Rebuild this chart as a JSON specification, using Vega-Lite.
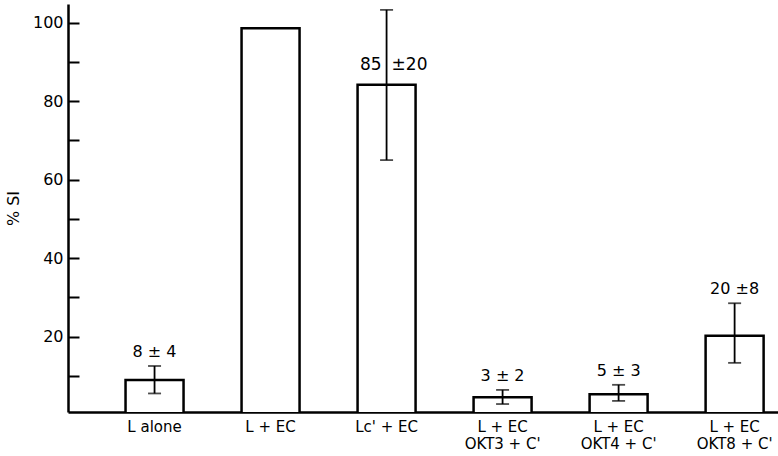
{
  "$schema": "https://vega.github.io/schema/vega-lite/v6.json",
  "autosize": "none",
  "width": 710,
  "height": 408,
  "padding": {"left": 68, "top": 4, "right": 0, "bottom": 44},
  "background": "white",
  "config": {
    "view": {"stroke": null},
    "font": "DejaVu Sans"
  },
  "data": {
    "values": [
      {"group": "L alone", "value": 8.9, "lo": 5.5, "hi": 12.5, "label": "8 ± 4", "mode": "above"},
      {"group": "L + EC", "value": 98.6, "lo": null, "hi": null, "label": null, "mode": "none"},
      {"group": "Lc' + EC", "value": 84.2, "lo": 65, "hi": 103.3, "label": "85", "label2": "±20", "mode": "split"},
      {"group": "L + EC|OKT3 + C'", "value": 4.5, "lo": 2.8, "hi": 6.4, "label": "3 ± 2", "mode": "above"},
      {"group": "L + EC|OKT4 + C'", "value": 5.3, "lo": 3.6, "hi": 7.7, "label": "5 ± 3", "mode": "above"},
      {"group": "L + EC|OKT8 + C'", "value": 20.2, "lo": 13.3, "hi": 28.5, "label": "20 ±8", "mode": "above"}
    ]
  },
  "encoding": {
    "x": {
      "field": "group",
      "type": "nominal",
      "sort": null,
      "scale": {"paddingInner": 0.5, "paddingOuter": 0.31, "align": 0.8},
      "axis": {
        "title": null,
        "labelAngle": 0,
        "ticks": false,
        "labelPadding": 7,
        "labelFontSize": 15,
        "labelColor": "black",
        "labelLineHeight": 17,
        "labelExpr": "split(datum.label, '|')",
        "domainColor": "black",
        "domainWidth": 2.5,
        "grid": false
      }
    }
  },
  "layer": [
    {
      "mark": {"type": "bar", "fill": "white", "stroke": "black", "strokeWidth": 2.5, "clip": true},
      "encoding": {
        "y": {
          "field": "value",
          "type": "quantitative",
          "scale": {"domain": [0.77, 104.8], "nice": false, "zero": false},
          "axis": {
            "title": "% SI",
            "titleFontSize": 16,
            "titleFontWeight": "normal",
            "titleColor": "black",
            "titlePadding": 11,
            "values": [10, 20, 30, 40, 50, 60, 70, 80, 90, 100],
            "labelExpr": "datum.value % 20 == 0 ? datum.label : ''",
            "labelFontSize": 16,
            "labelColor": "black",
            "tickSize": -11,
            "tickColor": "black",
            "tickWidth": 2,
            "labelPadding": 16,
            "domainColor": "black",
            "domainWidth": 2.5,
            "grid": false
          }
        }
      }
    },
    {
      "transform": [{"filter": "datum.lo != null"}],
      "mark": {"type": "rule", "color": "black", "strokeWidth": 1.8},
      "encoding": {
        "y": {"field": "lo", "type": "quantitative"},
        "y2": {"field": "hi"}
      }
    },
    {
      "transform": [{"filter": "datum.lo != null"}],
      "mark": {"type": "tick", "color": "black", "thickness": 1.8, "size": 13, "orient": "horizontal"},
      "encoding": {
        "y": {"field": "lo", "type": "quantitative"}
      }
    },
    {
      "transform": [{"filter": "datum.lo != null"}],
      "mark": {"type": "tick", "color": "black", "thickness": 1.8, "size": 13, "orient": "horizontal"},
      "encoding": {
        "y": {"field": "hi", "type": "quantitative"}
      }
    },
    {
      "transform": [{"filter": "datum.mode == 'above'"}],
      "mark": {"type": "text", "fontSize": 16, "dy": -14, "baseline": "middle", "color": "black"},
      "encoding": {
        "y": {"field": "hi", "type": "quantitative"},
        "text": {"field": "label"}
      }
    },
    {
      "transform": [{"filter": "datum.mode == 'split'"}],
      "mark": {"type": "text", "fontSize": 17, "dy": -20, "dx": -5, "align": "right", "baseline": "middle", "color": "black"},
      "encoding": {
        "y": {"field": "value", "type": "quantitative"},
        "text": {"field": "label"}
      }
    },
    {
      "transform": [{"filter": "datum.mode == 'split'"}],
      "mark": {"type": "text", "fontSize": 17, "dy": -20, "dx": 5, "align": "left", "baseline": "middle", "color": "black"},
      "encoding": {
        "y": {"field": "value", "type": "quantitative"},
        "text": {"field": "label2"}
      }
    }
  ]
}
